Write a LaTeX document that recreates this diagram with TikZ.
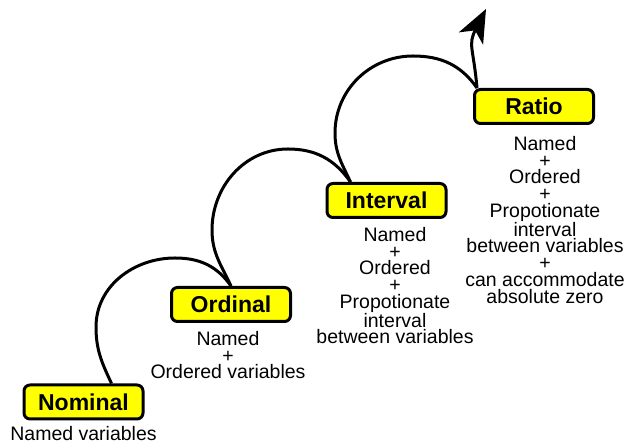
\documentclass[tikz,border=0pt]{standalone}
\usepackage{fontspec}
\setmainfont{Liberation Sans}
\usetikzlibrary{arrows.meta, positioning}
\definecolor{lvlcol}{HTML}{FFFF00}

\begin{document}
\begin{tikzpicture}[x=1pt, y=1pt,
  lvlbox/.style={draw, fill=lvlcol, rounded corners=6pt, line width=3pt,
    minimum width=119pt, minimum height=34pt, inner sep=0pt,
    font=\fontsize{23}{23}\selectfont\bfseries},
  desc/.style={align=center, inner sep=0pt, font=\fontsize{19.5}{16.7}\selectfont},
  stair/.style={line width=3pt},
  risearrow/.style={-{Stealth[length=33pt, width=27pt, inset=9pt]}, line width=3pt},
]
\useasboundingbox (0,0) rectangle (625,446);

% =================== levels ===================
\node[lvlbox] (nom) at (83.5,44) {Nominal};
\node[lvlbox] (ord) at (231,141.5) {Ordinal};
\node[lvlbox] (intv) at (386.5,245.5) {Interval};
\node[lvlbox] (rat) at (534,339.5) {Ratio};

\node[desc, below=6pt of nom] (nomtxt) {Named variables};
\node[desc, below=8pt of ord, xshift=-3pt] (ordtxt) {Named\\+\\Ordered variables};
\node[desc, below=8pt of intv, xshift=8.5pt] (intvtxt)
  {Named\\+\\Ordered\\+\\Propotionate\\interval\\between variables};
\node[desc, below=11pt of rat, xshift=11pt] (rattxt)
  {Named\\+\\Ordered\\+\\Propotionate\\interval\\between variables\\+\\can accommodate\\absolute zero};

% =================== steps ===================
\coordinate (left1) at (96,119);
\coordinate (top1) at (175,188);
\coordinate (left2) at (212,216);
\coordinate (top2) at (288,297);
\coordinate (left3) at (335,313);
\coordinate (top3) at (413,390);
\coordinate (up) at (486,437);

\draw[stair] ([xshift=28pt]nom.north) to[out=115, in=-90] (left1)
  to[out=90, in=180] (top1) to[out=0, in=125] (ord.north);
\draw[stair] (ord.north) to[out=115, in=-90] (left2)
  to[out=90, in=180] (top2) to[out=0, in=125] ([xshift=-36pt]intv.north);
\draw[stair] ([xshift=-36pt]intv.north) to[out=115, in=-90] (left3)
  to[out=90, in=180] (top3) to[out=0, in=125] ([xshift=-57pt]rat.north);
\draw[risearrow] ([xshift=-57pt]rat.north) to[out=95, in=-117, looseness=1.3] (up);

\end{tikzpicture}
\end{document}
